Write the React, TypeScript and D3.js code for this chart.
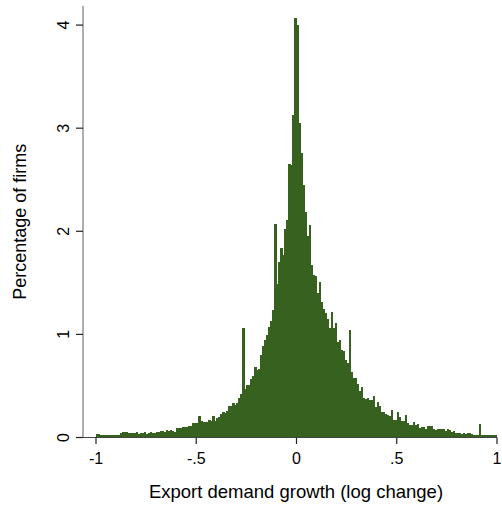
import React from "react";
import * as d3 from "d3";

// Histogram: 200 bins of width 0.01 from -1 to 1 (percentage of firms)
const binStart = -1;
const binWidth = 0.01;
const percentages: number[] = [
  0.035, 0.03, 0.02, 0.025, 0.02, 0.025, 0.025, 0.025, 0.025, 0.02, 0.025, 0.025,
  0.04, 0.05, 0.055, 0.05, 0.045, 0.045, 0.045, 0.045, 0.05, 0.035, 0.045, 0.045,
  0.055, 0.035, 0.045, 0.05, 0.045, 0.045, 0.05, 0.055, 0.06, 0.065, 0.055, 0.075,
  0.06, 0.075, 0.06, 0.05, 0.095, 0.09, 0.095, 0.10, 0.10, 0.10, 0.11, 0.11,
  0.14, 0.145, 0.14, 0.21, 0.16, 0.15, 0.15, 0.15, 0.17, 0.16, 0.21, 0.16,
  0.19, 0.20, 0.23, 0.25, 0.24, 0.26, 0.31, 0.31, 0.33, 0.32, 0.33, 0.38,
  0.42, 1.06, 0.47, 0.51, 0.51, 0.57, 0.60, 0.68, 0.65, 0.66, 0.80, 0.89,
  0.95, 0.99, 1.07, 1.13, 1.24, 2.07, 1.49, 1.70, 1.84, 1.77, 2.02, 2.11,
  2.65, 2.64, 3.13, 4.07, 4.00, 3.05, 2.76, 2.45, 2.19, 1.95, 2.06, 1.67,
  1.58, 1.57, 1.40, 1.51, 1.31, 1.25, 1.21, 1.15, 1.06, 1.22, 1.06, 1.11,
  0.93, 0.95, 0.85, 0.84, 0.75, 0.72, 1.04, 0.64, 0.58, 0.58, 0.52, 0.45,
  0.49, 0.38, 0.37, 0.38, 0.36, 0.36, 0.40, 0.30, 0.34, 0.31, 0.25, 0.25,
  0.23, 0.22, 0.21, 0.27, 0.17, 0.17, 0.25, 0.20, 0.16, 0.16, 0.22, 0.14,
  0.12, 0.12, 0.15, 0.12, 0.13, 0.09, 0.10, 0.10, 0.085, 0.11, 0.11, 0.11,
  0.085, 0.07, 0.085, 0.08, 0.085, 0.08, 0.066, 0.085, 0.07, 0.053, 0.06, 0.047,
  0.047, 0.04, 0.034, 0.04, 0.034, 0.045, 0.04, 0.034, 0.027, 0.02, 0.02, 0.13,
  0.027, 0.02, 0.02, 0.02, 0.02, 0.02, 0.02, 0.02,
];

const xTicks: number[] = [-1, -0.5, 0, 0.5, 1];
const xTickLabels: string[] = ["-1", "-.5", "0", ".5", "1"];
const yTicks: number[] = [0, 1, 2, 3, 4];
const yTickLabels: string[] = ["0", "1", "2", "3", "4"];
const xTitle = "Export demand growth (log change)";
const yTitle = "Percentage of firms";

const W = 502;
const H = 506;
const FONT = "'Liberation Sans', Arial, Helvetica, sans-serif";
const BAR = "#36611f";

export default function App() {
  const x = d3.scaleLinear().domain([-1, 1]).range([96, 497]);
  const y = d3.scaleLinear().domain([0, 4.185]).range([437.5, 6]);
  const axisLeft = 83;
  const base = y(0);

  return (
    <svg
      width={W}
      height={H}
      style={{ position: "absolute", left: 0, top: 0, background: "#fff" }}
    >
      <rect x={0} y={0} width={W} height={H} fill="#fff" />
      {/* bars */}
      <g shapeRendering="crispEdges">
        {percentages.map((v, i) => {
          const x0 = x(binStart + i * binWidth);
          const x1 = x(binStart + (i + 1) * binWidth);
          return (
            <rect
              key={i}
              x={x0}
              y={y(v)}
              width={x1 - x0 + 0.3}
              height={base - y(v)}
              fill={BAR}
            />
          );
        })}
      </g>
      {/* y axis */}
      <line x1={axisLeft} x2={axisLeft} y1={y.range()[1]} y2={base} stroke="#777" strokeWidth={1.2} />
      {yTicks.map((t, i) => (
        <g key={t}>
          <line x1={axisLeft - 7} x2={axisLeft} y1={y(t)} y2={y(t)} stroke="#222" strokeWidth={1.2} />
          <text
            transform={`translate(69,${y(t)}) rotate(-90)`}
            textAnchor="middle"
            fontFamily={FONT}
            fontSize={16}
            fill="#000"
          >
            {yTickLabels[i]}
          </text>
        </g>
      ))}
      {/* x axis */}
      <line x1={axisLeft} x2={x(1)} y1={base} y2={base} stroke="#444" strokeWidth={1.2} />
      {xTicks.map((t, i) => (
        <g key={t}>
          <line x1={x(t)} x2={x(t)} y1={base} y2={base + 6.5} stroke="#222" strokeWidth={1.2} />
          <text
            x={x(t)}
            y={464}
            textAnchor="middle"
            fontFamily={FONT}
            fontSize={16}
            fill="#000"
          >
            {xTickLabels[i]}
          </text>
        </g>
      ))}
      <text
        x={296}
        y={498}
        textAnchor="middle"
        fontFamily={FONT}
        fontSize={18.5}
        fill="#000"
      >
        {xTitle}
      </text>
      <text
        transform={`translate(26,${(y.range()[1] + base) / 2}) rotate(-90)`}
        textAnchor="middle"
        fontFamily={FONT}
        fontSize={18}
        fill="#000"
      >
        {yTitle}
      </text>
    </svg>
  );
}
